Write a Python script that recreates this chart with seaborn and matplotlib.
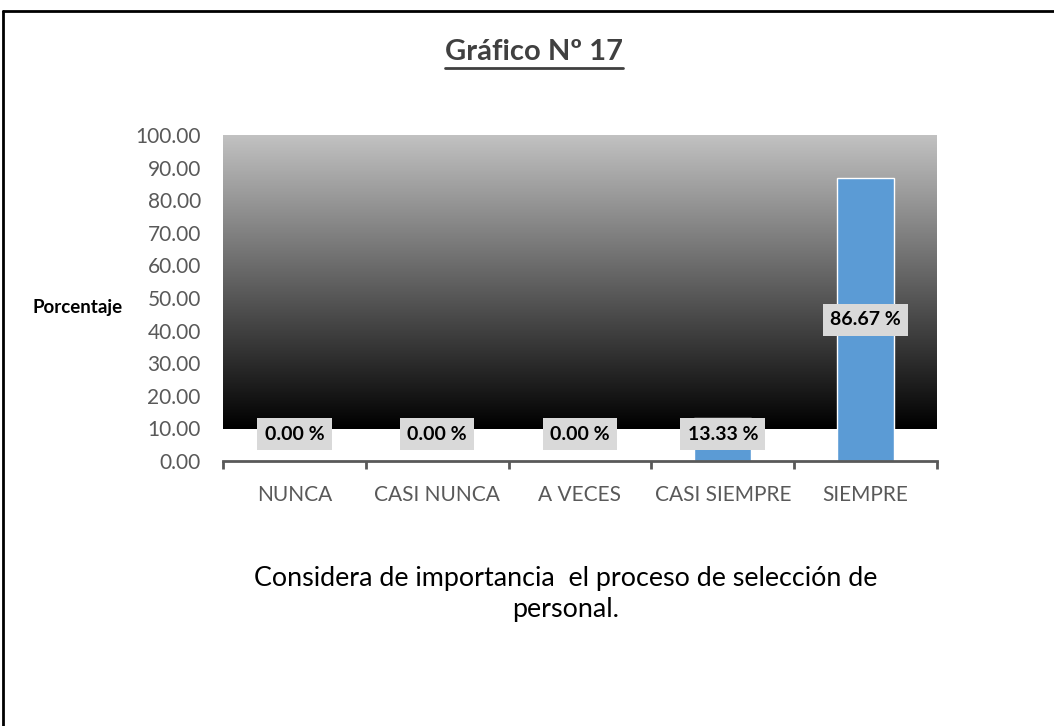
import numpy as np
import pandas as pd
import matplotlib
matplotlib.use("Agg")
import matplotlib.pyplot as plt
from matplotlib.colors import LinearSegmentedColormap
from matplotlib.lines import Line2D
import seaborn as sns

# Survey answers and their share of respondents (%)
categories = ["NUNCA", "CASI NUNCA", "A VECES", "CASI SIEMPRE", "SIEMPRE"]
percentages = [0.00, 0.00, 0.00, 13.33, 86.67]
y_ticks = [0, 10, 20, 30, 40, 50, 60, 70, 80, 90, 100]

title_text = "Gráfico Nº 17"
y_label = "Porcentaje"
caption = "Considera de importancia  el proceso de selección de\npersonal."

sns.set_theme(style="white")
plt.rcParams["font.family"] = ["Lato", "DejaVu Sans"]

W, H = 1054, 726
fig = plt.figure(figsize=(W / 100, H / 100), dpi=100)
fig.patch.set_facecolor("white")

# axes placed in pixel terms: x 223..937, y(0)=461, y(100)=135
ax = fig.add_axes([223 / W, (H - 461) / H, 714 / W, 326 / H])
ax.set_facecolor("none")

df = pd.DataFrame({"cat": categories, "pct": percentages})
sns.barplot(data=df, x="cat", y="pct", color="#5b9bd5", saturation=1,
            width=0.4, ax=ax, zorder=3)

ax.set_xlim(-0.5, len(categories) - 0.5)
ax.set_ylim(0, 100)

# grey-to-black gradient behind the bars, from 10 up to 100
cmap = LinearSegmentedColormap.from_list("bg", ["#000000", "#c2c2c2"])
grad = np.linspace(0, 1, 256).reshape(-1, 1)
ax.imshow(grad, cmap=cmap, origin="lower", aspect="auto",
          extent=(-0.5, len(categories) - 0.5, 9.7, 100), zorder=1)

for s in ["top", "right", "left"]:
    ax.spines[s].set_visible(False)
ax.spines["bottom"].set_color("#595959")
ax.spines["bottom"].set_linewidth(2)
ax.spines["bottom"].set_zorder(4)

ax.set_yticks(y_ticks)
ax.set_yticklabels([f"{v:.2f}" for v in y_ticks])
ax.tick_params(axis="y", length=0, pad=16, labelsize=15, labelcolor="#595959")

ax.set_xticks(range(len(categories)))
ax.set_xticklabels(categories)
ax.tick_params(axis="x", which="major", length=0, pad=17, labelsize=15,
               labelcolor="#595959")
ax.set_xticks(np.arange(-0.5, len(categories), 1.0), minor=True)
ax.tick_params(axis="x", which="minor", length=6, width=2, color="#595959",
               direction="out", bottom=True)
ax.set_xlabel("")
ax.set_ylabel("")
ax.grid(False)

# value labels in grey boxes
for i, v in enumerate(percentages):
    ax.text(i, max(v / 2, 8.2), f"{v:.2f} %", ha="center", va="center",
            fontsize=14, fontweight="bold", color="black", zorder=5,
            bbox=dict(boxstyle="square,pad=0.38", facecolor="#d9d9d9",
                      edgecolor="none"))

fig.text(78 / W, 1 - 307 / H, y_label, ha="center", va="center",
         fontsize=13.5, fontweight="bold", color="black")

title = fig.text(534 / W, 1 - 52 / H, title_text, ha="center", va="center",
                 fontsize=21, fontweight="bold", color="#404040")

fig.text(566 / W, 1 - 594 / H, caption, ha="center", va="center",
         fontsize=19.4, color="black", linespacing=1.3)

# underline under the title
fig.canvas.draw()
bb = title.get_window_extent(fig.canvas.get_renderer())
uy = (bb.y0 - 3) / H
fig.add_artist(Line2D([bb.x0 / W, bb.x1 / W], [uy, uy], color="#404040",
                      linewidth=2, transform=fig.transFigure))

# outer frame: top and left edges
fig.add_artist(Line2D([3 / W, 1.0], [1 - 11 / H, 1 - 11 / H], color="black",
                      linewidth=2, transform=fig.transFigure))
fig.add_artist(Line2D([3 / W, 3 / W], [0, 1 - 11 / H], color="black",
                      linewidth=2, transform=fig.transFigure))

fig.savefig("out.png", dpi=100)
